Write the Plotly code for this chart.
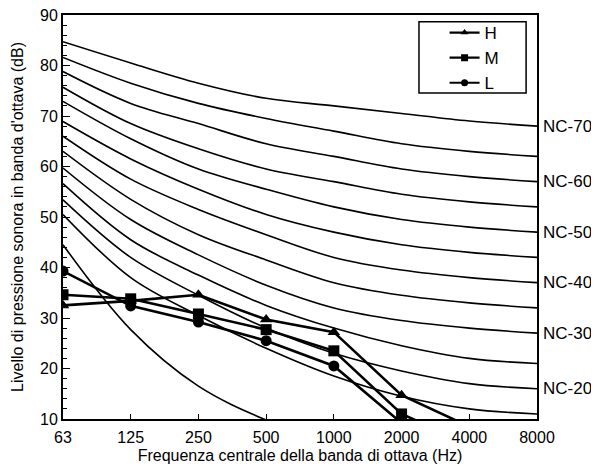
import plotly.graph_objects as go

freqs = ["63", "125", "250", "500", "1000", "2000", "4000", "8000"]

# NC curves (dB)
nc_labels = ["NC-15", "NC-20", "NC-25", "NC-30", "NC-35", "NC-40",
             "NC-45", "NC-50", "NC-55", "NC-60", "NC-65", "NC-70"]
nc15 = [50.5, 38, 30.5, 24, 18.5, 14.5, 12, 11]
nc20 = [53.4, 42, 34.5, 28, 23, 19.5, 17, 16]
nc25 = [56.6, 45.5, 38.5, 32.5, 28, 24.5, 22, 21]
nc30 = [59.7, 49.5, 42.5, 36.5, 32, 29.5, 28, 27]
nc35 = [63.0, 53.5, 46.5, 41.5, 37, 34.5, 33, 32]
nc40 = [66.0, 57.5, 51.5, 46.5, 42, 39.5, 38, 37]
nc45 = [68.9, 61.5, 55.5, 50.5, 47, 44.5, 43, 42]
nc50 = [72.9, 65.5, 59.5, 55.5, 52, 49.5, 48, 47]
nc55 = [75.7, 68.5, 63.5, 59.5, 57, 54.5, 53, 52]
nc60 = [78.8, 72.5, 68.5, 64.5, 62, 59.5, 58, 57]
nc65 = [81.6, 76.5, 72.5, 69.5, 67, 64.5, 63, 62]
nc70 = [84.7, 80.5, 76.5, 73.5, 72, 70.5, 69, 68]
nc_curves = [nc15, nc20, nc25, nc30, nc35, nc40, nc45, nc50, nc55, nc60, nc65, nc70]
nc_shown = ["NC-20", "NC-30", "NC-40", "NC-50", "NC-60", "NC-70"]

# steep low curve (threshold)
thresh = [44.5, 27.7, 16.5, 9.8, 5.0, 2.0, 1.0, 1.0]

# measured spectra
H = [32.5, 33.4, 34.6, 29.7, 27.2, 14.7, 8.5]
M = [34.6, 33.8, 30.8, 27.7, 23.5, 11.0, 5.0]
L = [39.3, 32.4, 29.2, 25.5, 20.5, 9.2, 4.0]

fig = go.Figure()

for name, vals in zip(nc_labels, nc_curves):
    fig.add_trace(go.Scatter(x=freqs, y=vals, mode="lines", showlegend=False,
                             line=dict(color="black", width=1.6, shape="spline", smoothing=1.0),
                             hoverinfo="skip"))
    if name in nc_shown:
        fig.add_annotation(x=1.0, xref="paper", y=vals[-1], yref="y", text=name,
                           showarrow=False, xanchor="left", xshift=4,
                           font=dict(size=17, color="black"))

fig.add_trace(go.Scatter(x=freqs, y=thresh, mode="lines", showlegend=False,
                         line=dict(color="black", width=1.6, shape="spline", smoothing=1.0)))

for name, vals, sym in [("H", H, "triangle-up"), ("M", M, "square"), ("L", L, "circle")]:
    fig.add_trace(go.Scatter(x=freqs[:len(vals)], y=vals, mode="lines+markers", name=name,
                             showlegend=False,
                             line=dict(color="black", width=2.6),
                             marker=dict(symbol=sym, size=11, color="black")))
    # legend entry with smaller symbol
    fig.add_trace(go.Scatter(x=[None], y=[None], mode="lines+markers", name=name,
                             line=dict(color="black", width=2.2),
                             marker=dict(symbol=sym, size=7, color="black")))

# legend frame
fig.add_shape(type="rect", xref="paper", yref="paper", x0=0.751, x1=0.977, y0=0.807, y1=0.983,
              line=dict(color="black", width=1.5), fillcolor="white", layer="below")

# page body adds an 8px offset, so the figure is shrunk to compensate
fig.update_layout(
    width=591, height=463,
    margin=dict(l=55, r=62, t=7, b=52),
    plot_bgcolor="white", paper_bgcolor="white",
    font=dict(family="Liberation Sans, Arial, sans-serif", size=16, color="black"),
    legend=dict(x=0.805, y=1.0, xanchor="left", yanchor="top",
                bgcolor="rgba(0,0,0,0)", borderwidth=0,
                font=dict(size=17), tracegroupgap=0, itemwidth=30),
    showlegend=True,
)
fig.update_xaxes(type="category", range=[0, 7], showline=True, linecolor="black", linewidth=2,
                 mirror=True, ticks="inside", ticklen=5, tickcolor="black",
                 showgrid=False, zeroline=False, tickfont=dict(size=16), automargin=False,
                 ticklabelstandoff=3, ticklabeloverflow="allow",
                 title=dict(text="Frequenza centrale della banda di ottava (Hz)", standoff=5,
                            font=dict(size=16)))
fig.update_yaxes(range=[10, 90], dtick=10, showline=True, linecolor="black", linewidth=2,
                 mirror=True, ticks="inside", ticklen=7, tickcolor="black",
                 minor=dict(dtick=2, ticks="inside", ticklen=4, tickcolor="black"),
                 showgrid=False, zeroline=False, tickfont=dict(size=16), automargin=False,
                 ticklabeloverflow="allow",
                 title=dict(text="Livello di pressione sonora in banda d'ottava (dB)", standoff=12,
                            font=dict(size=16)))

fig.write_html("out.html")
